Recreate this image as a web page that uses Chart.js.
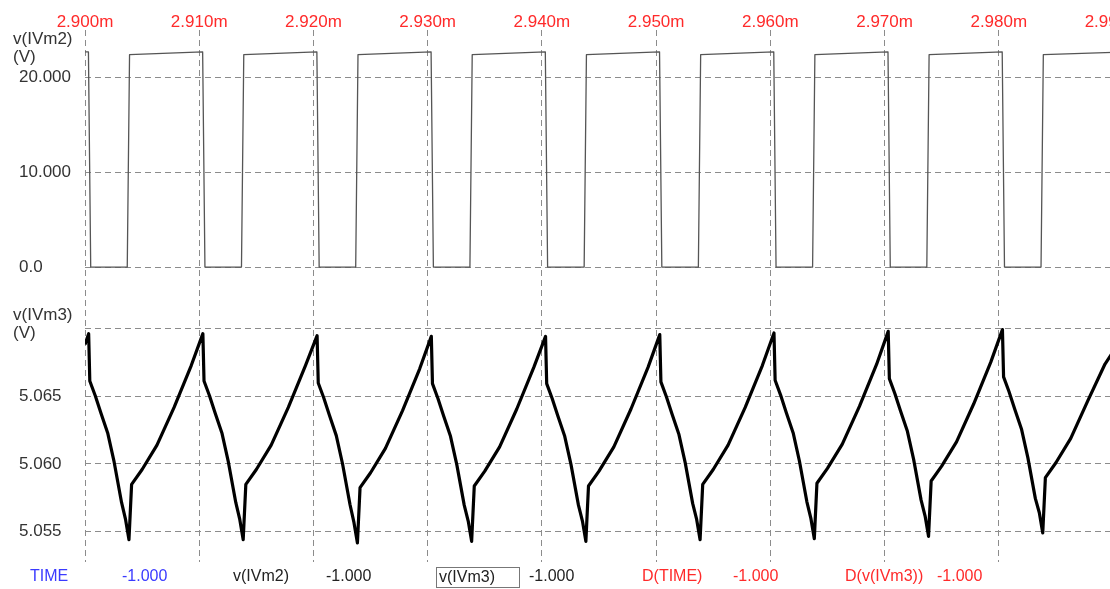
<!DOCTYPE html>
<html><head><meta charset="utf-8">
<script src="https://cdn.jsdelivr.net/npm/chart.js@4.4.1/dist/chart.umd.min.js"></script>
<style>
html,body{margin:0;padding:0;background:#fff;overflow:hidden;width:1110px;height:589px;}
#wrap{position:absolute;left:0;top:0;width:1180px;height:589px;}
canvas{display:block;}
.lbl{position:absolute;font-family:"Liberation Sans",Arial,sans-serif;white-space:nowrap;line-height:1;}
.ax{font-size:17px;color:#333;}
.bt{font-size:16px;top:568px;}
</style></head><body>
<div id="wrap"><canvas id="c" width="1180" height="589"></canvas></div>
<div class="lbl ax" style="left:13px;top:30px;">v(IVm2)</div>
<div class="lbl ax" style="left:13px;top:48px;">(V)</div>
<div class="lbl ax" style="left:13px;top:306px;">v(IVm3)</div>
<div class="lbl ax" style="left:13px;top:324px;">(V)</div>
<div class="lbl bt" style="left:30px;color:#3a3aff;">TIME</div>
<div class="lbl bt" style="left:122px;color:#3a3aff;">-1.000</div>
<div class="lbl bt" style="left:233px;color:#222;">v(IVm2)</div>
<div class="lbl bt" style="left:326px;color:#222;">-1.000</div>
<div class="lbl bt" style="left:436px;top:567px;width:84px;height:21px;border:1px solid #777;color:#222;padding:1px 0 0 2px;box-sizing:border-box;">v(IVm3)</div>
<div class="lbl bt" style="left:529px;color:#222;">-1.000</div>
<div class="lbl bt" style="left:642px;color:#ff2a2a;">D(TIME)</div>
<div class="lbl bt" style="left:733px;color:#ff2a2a;">-1.000</div>
<div class="lbl bt" style="left:845px;color:#ff2a2a;">D(v(IVm3))</div>
<div class="lbl bt" style="left:937px;color:#ff2a2a;">-1.000</div>
<script>
// Tick values
const xTickValues = [2.900, 2.910, 2.920, 2.930, 2.940, 2.950, 2.960, 2.970, 2.980, 2.990];
const topTickValues = [0, 10, 20];
const botTickValues = [5.055, 5.060, 5.065, 5.070];

// v(IVm2) : time (ms) and voltage (V)
const timeTop = [
  2.90000, 2.90030, 2.90050, 2.90370, 2.90390,
  2.91030, 2.91050, 2.91370, 2.91390,
  2.92030, 2.92050, 2.92370, 2.92390,
  2.93030, 2.93050, 2.93370, 2.93390,
  2.94030, 2.94050, 2.94370, 2.94390,
  2.95030, 2.95050, 2.95370, 2.95390,
  2.96030, 2.96050, 2.96370, 2.96390,
  2.97030, 2.97050, 2.97370, 2.97390,
  2.98030, 2.98050, 2.98370, 2.98390,
  2.99000
];
const vIVm2 = [
  22.70, 22.70, 0.05, 0.05, 22.40,
  22.70, 0.05, 0.05, 22.40,
  22.70, 0.05, 0.05, 22.40,
  22.70, 0.05, 0.05, 22.40,
  22.70, 0.05, 0.05, 22.40,
  22.70, 0.05, 0.05, 22.40,
  22.70, 0.05, 0.05, 22.40,
  22.70, 0.05, 0.05, 22.40,
  22.70, 0.05, 0.05, 22.40,
  22.65
];

// v(IVm3) : time (ms) and voltage (V)
const timeBot = [
  2.90000,
  2.90032, 2.90042, 2.90090, 2.90140, 2.90200, 2.90255, 2.90320, 2.90355, 2.90385, 2.90408, 2.90500, 2.90630, 2.90780, 2.90930,
  2.91032, 2.91042, 2.91090, 2.91140, 2.91200, 2.91255, 2.91320, 2.91355, 2.91385, 2.91408, 2.91500, 2.91630, 2.91780, 2.91930,
  2.92032, 2.92042, 2.92090, 2.92140, 2.92200, 2.92255, 2.92320, 2.92355, 2.92385, 2.92408, 2.92500, 2.92630, 2.92780, 2.92930,
  2.93032, 2.93042, 2.93090, 2.93140, 2.93200, 2.93255, 2.93320, 2.93355, 2.93385, 2.93408, 2.93500, 2.93630, 2.93780, 2.93930,
  2.94032, 2.94042, 2.94090, 2.94140, 2.94200, 2.94255, 2.94320, 2.94355, 2.94385, 2.94408, 2.94500, 2.94630, 2.94780, 2.94930,
  2.95032, 2.95042, 2.95090, 2.95140, 2.95200, 2.95255, 2.95320, 2.95355, 2.95385, 2.95408, 2.95500, 2.95630, 2.95780, 2.95930,
  2.96032, 2.96042, 2.96090, 2.96140, 2.96200, 2.96255, 2.96320, 2.96355, 2.96385, 2.96408, 2.96500, 2.96630, 2.96780, 2.96930,
  2.97032, 2.97042, 2.97090, 2.97140, 2.97200, 2.97255, 2.97320, 2.97355, 2.97385, 2.97408, 2.97500, 2.97630, 2.97780, 2.97930,
  2.98032, 2.98042, 2.98090, 2.98140, 2.98200, 2.98255, 2.98320, 2.98355, 2.98385, 2.98408, 2.98500, 2.98630, 2.98780, 2.98930,
  2.99000
];
const vIVm3 = [
  5.06884,
  5.06965, 5.06615, 5.06505, 5.06375, 5.06225, 5.06015, 5.05715, 5.05589, 5.05439, 5.05849, 5.05959, 5.06139, 5.06419, 5.06729,
  5.06965, 5.06615, 5.06505, 5.06375, 5.06225, 5.06015, 5.05715, 5.05589, 5.05439, 5.05849, 5.05959, 5.06139, 5.06419, 5.06729,
  5.06950, 5.06600, 5.06490, 5.06360, 5.06210, 5.06000, 5.05700, 5.05565, 5.05415, 5.05825, 5.05935, 5.06115, 5.06395, 5.06705,
  5.06945, 5.06595, 5.06485, 5.06355, 5.06205, 5.05995, 5.05695, 5.05577, 5.05427, 5.05837, 5.05947, 5.06127, 5.06407, 5.06717,
  5.06945, 5.06595, 5.06485, 5.06355, 5.06205, 5.05995, 5.05695, 5.05577, 5.05427, 5.05837, 5.05947, 5.06127, 5.06407, 5.06717,
  5.06958, 5.06608, 5.06498, 5.06368, 5.06218, 5.06008, 5.05708, 5.05589, 5.05439, 5.05849, 5.05959, 5.06139, 5.06419, 5.06729,
  5.06970, 5.06620, 5.06510, 5.06380, 5.06230, 5.06020, 5.05720, 5.05597, 5.05447, 5.05857, 5.05967, 5.06147, 5.06427, 5.06737,
  5.06982, 5.06632, 5.06522, 5.06392, 5.06242, 5.06032, 5.05732, 5.05614, 5.05464, 5.05874, 5.05984, 5.06164, 5.06444, 5.06754,
  5.06995, 5.06645, 5.06535, 5.06405, 5.06255, 5.06045, 5.05745, 5.05639, 5.05489, 5.05899, 5.06009, 5.06189, 5.06469, 5.06740,
  5.06830
];

const FONT = '"Liberation Sans", Arial, sans-serif';
const GRID = '#8c8c8c';
const DASH = [6, 4];

const topData = timeTop.map((t, i) => ({x: t, y: vIVm2[i]}));
const botData = timeBot.map((t, i) => ({x: t, y: vIVm3[i]}));

new Chart(document.getElementById('c'), {
  type: 'line',
  data: {
    datasets: [
      {label: 'v(IVm2)', data: topData, yAxisID: 'yTop', borderColor: '#555', borderWidth: 1.3, pointRadius: 0, tension: 0, borderJoinStyle: 'round'},
      {label: 'v(IVm3)', data: botData, yAxisID: 'yBot', borderColor: '#000', borderWidth: 3.2, pointRadius: 0, tension: 0, borderJoinStyle: 'round'}
    ]
  },
  options: {
    responsive: false,
    animation: false,
    events: [],
    layout: {padding: {left: 19, right: 67, top: 0, bottom: 27}},
    plugins: {legend: {display: false}, tooltip: {enabled: false}, title: {display: false}},
    scales: {
      x: {
        type: 'linear', position: 'top', min: 2.900, max: 2.990,
        afterBuildTicks: s => { s.ticks = xTickValues.map(v => ({value: v})); },
        afterFit: s => { s.height = 30; },
        ticks: {color: '#ff2a2a', font: {family: FONT, size: 17}, padding: -3, maxRotation: 0, autoSkip: false,
          callback: v => v.toFixed(3) + 'm'},
        grid: {color: GRID, lineWidth: 1, drawTicks: false},
        border: {display: false, dash: DASH}
      },
      yBot: {
        type: 'linear', position: 'left', stack: 'panels', stackWeight: 1,
        min: 5.05274, max: 5.07244,
        afterBuildTicks: s => { s.ticks = botTickValues.map(v => ({value: v})); },
        afterFit: s => { s.width = 66; },
        ticks: {color: '#333', font: {family: FONT, size: 17}, crossAlign: 'far', padding: 0,
          callback: v => Math.abs(v - 5.070) < 1e-7 ? '' : v.toFixed(3)},
        grid: {color: GRID, lineWidth: 1, drawTicks: false},
        border: {display: false, dash: DASH}
      },
      yTop: {
        type: 'linear', position: 'left', stack: 'panels', stackWeight: 1,
        min: -3, max: 25,
        afterBuildTicks: s => { s.ticks = topTickValues.map(v => ({value: v})); },
        afterFit: s => { s.width = 66; },
        ticks: {color: '#333', font: {family: FONT, size: 17}, crossAlign: 'far', padding: 0,
          callback: v => v === 0 ? '0.0' : v.toFixed(3)},
        grid: {color: GRID, lineWidth: 1, drawTicks: false},
        border: {display: false, dash: DASH}
      }
    }
  }
});
</script>
</body></html>
